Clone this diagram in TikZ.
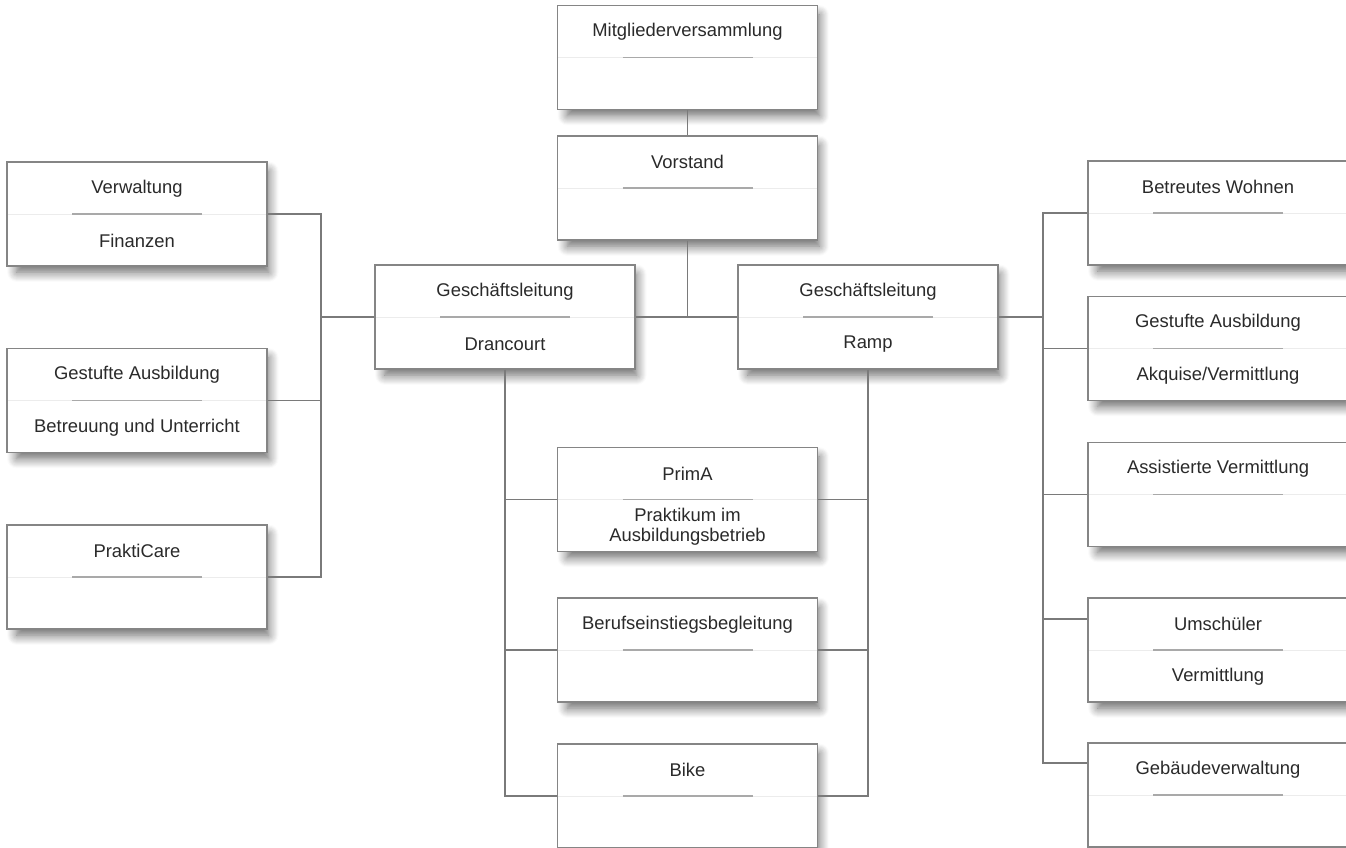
\documentclass[tikz,border=0pt]{standalone}
\usepackage{fontspec}
\setmainfont{Liberation Sans}
\usetikzlibrary{shadows.blur}
\definecolor{boxgray}{HTML}{858585}
\definecolor{linegray}{HTML}{7A7A7A}
\definecolor{textgray}{HTML}{2A2A2A}
\definecolor{faintgray}{HTML}{ECECEC}
\definecolor{bargray}{HTML}{A9A9A9}

\begin{document}
\begin{tikzpicture}[x=1pt, y=-1pt,
  orgbox/.style={draw=boxgray, line width=1.3pt, fill=white,
    minimum width=260pt, minimum height=104pt, inner sep=0pt,
    blur shadow={shadow xshift=6pt, shadow yshift=-8pt, shadow scale=0.97,
      shadow blur radius=10pt, shadow blur steps=10, shadow opacity=60},
    path picture={
      \draw[faintgray, line width=1pt] (path picture bounding box.west)
        -- (path picture bounding box.east);
      \draw[bargray, line width=1.3pt] ([xshift=-65pt]path picture bounding box.center)
        -- ([xshift=65pt]path picture bounding box.center);}},
  boxtext/.style={anchor=center, inner sep=0pt, text=textgray, align=center,
    font=\fontsize{18.4}{20.5}\selectfont},
  head/.style={label={[boxtext, yshift=-27pt]north:#1}},
  foot/.style={label={[boxtext, yshift=-27pt]center:#1}},
  link/.style={draw=linegray, line width=1.2pt}]
  \useasboundingbox (0,0) rectangle (1346,847);

  % top
  \node[orgbox, head=Mitgliederversammlung] (mv) at (687.5,57.5) {};
  \node[orgbox, head=Vorstand] (vs) at (687.5,188) {};

  % management
  \node[orgbox, head=Geschäftsleitung, foot=Drancourt] (gd) at (505,317) {};
  \node[orgbox, head=Geschäftsleitung, foot=Ramp] (gr) at (868,317) {};

  % left column
  \node[orgbox, head=Verwaltung, foot=Finanzen] (vw) at (137,214) {};
  \node[orgbox, head=Gestufte Ausbildung, foot=Betreuung und Unterricht] (gal) at (137,400.5) {};
  \node[orgbox, head=PraktiCare] (pc) at (137,577) {};

  % middle column
  \node[orgbox, head=PrimA, foot={Praktikum im\\Ausbildungsbetrieb}] (pa) at (687.5,499.5) {};
  \node[orgbox, head=Berufseinstiegsbegleitung] (bb) at (687.5,650) {};
  \node[orgbox, head=Bike] (bk) at (687.5,796) {};

  % right column
  \node[orgbox, head=Betreutes Wohnen] (bw) at (1218,213) {};
  \node[orgbox, head=Gestufte Ausbildung, foot=Akquise/Vermittlung] (gar) at (1218,348.5) {};
  \node[orgbox, head=Assistierte Vermittlung] (av) at (1218,494.5) {};
  \node[orgbox, head=Umschüler, foot=Vermittlung] (us) at (1218,650) {};
  \node[orgbox, head=Gebäudeverwaltung] (gv) at (1218,795) {};

  \coordinate (lbus) at (321,0);
  \coordinate (rbus) at (1043,0);
  \coordinate (usin) at ([yshift=31pt]us.west);
  \coordinate (gvin) at ([yshift=32pt]gv.west);

  % connectors
  \draw[link] (mv.south) -- (vs.north);
  \draw[link] (vs.south) -- (vs.south |- gd.east);
  \draw[link] (gd.east) -- (gr.west);

  \draw[link] (gd.west) -- (gd.west -| lbus);
  \draw[link] (vw.east) -- (vw.east -| lbus) -- (pc.east -| lbus) -- (pc.east);
  \draw[link] (gal.east) -- (gal.east -| lbus);

  \draw[link] (gd.south) -- (gd.south |- bk.west) -- (bk.west);
  \draw[link] (pa.west -| gd.south) -- (pa.west);
  \draw[link] (bb.west -| gd.south) -- (bb.west);
  \draw[link] (gr.south) -- (gr.south |- bk.east) -- (bk.east);
  \draw[link] (pa.east -| gr.south) -- (pa.east);
  \draw[link] (bb.east -| gr.south) -- (bb.east);

  \draw[link] (gr.east) -- (gr.east -| rbus);
  \draw[link] (bw.west) -- (bw.west -| rbus) -- (gvin -| rbus) -- (gvin);
  \draw[link] (gar.west -| rbus) -- (gar.west);
  \draw[link] (av.west -| rbus) -- (av.west);
  \draw[link] (usin -| rbus) -- (usin);
\end{tikzpicture}
\end{document}
